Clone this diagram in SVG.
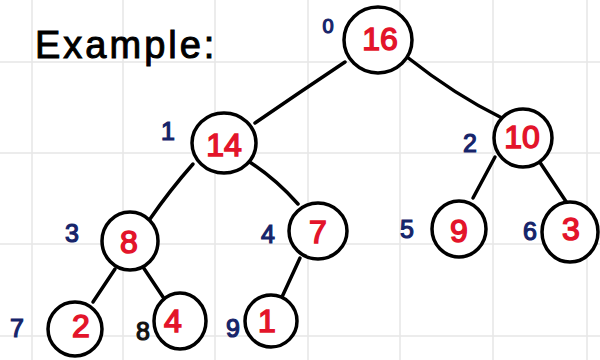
<svg xmlns="http://www.w3.org/2000/svg" width="600" height="360" viewBox="0 0 600 360">
<style>
.grid{stroke:#e6e6e6;stroke-width:1.5;fill:none}
.node ellipse{fill:#fff;stroke:#000;stroke-width:3.5}
.val{font-family:"Liberation Sans",Arial,sans-serif;font-size:32px;fill:#e3142a;text-anchor:middle;stroke:#e3142a;stroke-width:1.5}
.idx{font-family:"Liberation Sans",Arial,sans-serif;font-size:25px;fill:#16246a;text-anchor:middle;stroke:#16246a;stroke-width:1.2}
.edges path{fill:none;stroke:#000;stroke-width:3.5;stroke-linecap:round}
.title{font-family:"Liberation Sans",Arial,sans-serif;font-size:38px;fill:#000;stroke:#000;stroke-width:1;letter-spacing:3px}
</style>
<rect width="600" height="360" fill="#fff"/>
<g id="grid" class="grid">
<path d="M32 0V360M123 0V360M215 0V360M308 0V360M400 0V360M493 0V360M587 0V360"/>
<path d="M0 62H600M0 153H600M0 244H600M0 336H600"/>
</g>
<text class="title" x="35" y="58">Example:</text>
<g id="edges" class="edges">
<path d="M255 123 Q300 92 345 62"/>
<path d="M407 57 Q455 95 502 118"/>
<path d="M193 164 Q170 190 150 219"/>
<path d="M248 161 Q275 178 298 204"/>
<path d="M495 157 L473 198"/>
<path d="M539 161 L567 203"/>
<path d="M115 269 L93 302"/>
<path d="M143 267 L165 300"/>
<path d="M300 258 L282 297"/>
</g>
<g id="n0" class="node"><ellipse cx="378" cy="40" rx="34" ry="33"/><text class="val" x="380" y="50">16</text><text class="idx" x="328" y="33" style="font-size:20px">0</text></g>
<g id="n1" class="node"><ellipse cx="224" cy="143" rx="32" ry="30"/><text class="val" x="224" y="156">14</text><text class="idx" x="168" y="140">1</text></g>
<g id="n2" class="node"><ellipse cx="523" cy="138" rx="29" ry="29"/><text class="val" x="522" y="148">10</text><text class="idx" x="470" y="152">2</text></g>
<g id="n3" class="node"><ellipse cx="130" cy="241" rx="28" ry="29"/><text class="val" x="129" y="253">8</text><text class="idx" x="72" y="242">3</text></g>
<g id="n4" class="node"><ellipse cx="318" cy="231" rx="29" ry="28"/><text class="val" x="318" y="243">7</text><text class="idx" x="268" y="243">4</text></g>
<g id="n5" class="node"><ellipse cx="459" cy="229" rx="27" ry="28"/><text class="val" x="459" y="242">9</text><text class="idx" x="407" y="238">5</text></g>
<g id="n6" class="node"><ellipse cx="570" cy="232" rx="28" ry="30"/><text class="val" x="571" y="240">3</text><text class="idx" x="530" y="240">6</text></g>
<g id="n7" class="node"><ellipse cx="75" cy="329" rx="27" ry="27"/><text class="val" x="81" y="337">2</text><text class="idx" x="17" y="337">7</text></g>
<g id="n8" class="node"><ellipse cx="180" cy="321" rx="26" ry="28"/><text class="val" x="173" y="332">4</text><text class="idx" x="143" y="340" style="fill:#111;stroke:#111">8</text></g>
<g id="n9" class="node"><ellipse cx="271" cy="321" rx="26" ry="26"/><text class="val" x="267" y="332">1</text><text class="idx" x="233" y="337">9</text></g>
</svg>
